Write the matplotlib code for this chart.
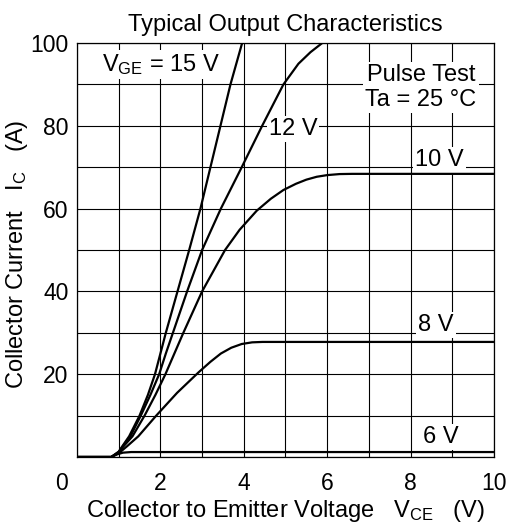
import matplotlib
matplotlib.use("Agg")
import matplotlib.pyplot as plt

plt.rcParams['font.family'] = ['Liberation Sans', 'DejaVu Sans']
plt.rcParams['mathtext.fontset'] = 'custom'
plt.rcParams['mathtext.rm'] = 'Liberation Sans'
plt.rcParams['mathtext.it'] = 'Liberation Sans:italic'

# curves: collector-emitter voltage (V) and collector current (A)
v_15 = [0, 0.82, 1.0, 1.1, 1.25, 1.5, 1.7, 1.87, 2.0, 2.13, 2.41, 2.69, 2.96, 3.2, 3.44, 3.68, 3.96]
i_15 = [0, 0, 1.3, 2.8, 5, 10, 15, 20, 25, 30, 40, 50, 60, 70, 80, 90, 100]

v_12 = [0, 0.82, 1.0, 1.1, 1.28, 1.53, 1.76, 1.97, 2.13, 2.3, 2.64, 3.0, 3.45, 3.95, 4.44, 4.95, 5.31, 5.6, 5.88]
i_12 = [0, 0, 1.2, 2.6, 5, 10, 15, 20, 25, 30, 40, 50, 60, 70, 80, 90, 95, 97.8, 100]

v_10 = [0, 0.82, 1.0, 1.1, 1.33, 1.62, 1.88, 2.12, 2.55, 3.0, 3.55, 3.9, 4.31, 4.65, 4.95, 5.25, 5.5, 5.75, 6.0, 6.3, 6.6, 10]
i_10 = [0, 0, 1.1, 2.4, 5, 10, 15, 20, 30, 40, 50, 54.9, 59.5, 62.4, 64.5, 66.0, 67.0, 67.7, 68.1, 68.35, 68.4, 68.4]

v_8 = [0, 0.82, 1.0, 1.2, 1.47, 1.9, 2.4, 2.92, 3.2, 3.45, 3.7, 3.95, 4.2, 4.45, 10]
i_8 = [0, 0, 0.9, 2.6, 5, 10, 15.5, 20.5, 23.0, 25.0, 26.4, 27.3, 27.7, 27.8, 27.8]

v_6 = [0, 0.82, 0.95, 1.1, 1.3, 10]
i_6 = [0, 0, 0.6, 1.05, 1.2, 1.2]

curves = [(v_15, i_15), (v_12, i_12), (v_10, i_10), (v_8, i_8), (v_6, i_6)]

x_ticks = [2, 4, 6, 8, 10]
y_ticks = [20, 40, 60, 80, 100]

fs = 17

fig = plt.figure(figsize=(5.08, 5.25), dpi=100)
ax = fig.add_axes([0.1516, 0.1295, 0.8208, 0.7885])

for v, i in curves:
    ax.plot(v, i, color='black', lw=1.6, zorder=4, solid_capstyle='butt')

ax.set_xlim(0, 10)
ax.set_ylim(0, 100)
ax.set_xticks(range(0, 11), minor=True)
ax.set_yticks(range(0, 101, 10), minor=True)
ax.set_xticks(x_ticks)
ax.set_yticks(y_ticks)
ax.grid(which='both', color='black', lw=0.8)
ax.set_axisbelow(True)
ax.tick_params(which='both', length=0, labelsize=16.5)
ax.tick_params(axis='x', pad=11)
ax.tick_params(axis='y', pad=6)
for s in ax.spines.values():
    s.set_linewidth(0.9)

# shared "0" at the lower left corner
ax.annotate('0', xy=(0, 0), xytext=(-6.5, -11), textcoords='offset points',
            ha='right', va='top', fontsize=16.5)

ax.set_title('Typical Output Characteristics', fontsize=fs, pad=9)
ax.set_xlabel(r'Collector to Emitter Voltage   $\mathregular{V_{CE}}$   (V)', fontsize=fs, labelpad=2)
ax.set_ylabel(r'Collector Current   $\mathregular{I_C}$   (A)', fontsize=fs)
ax.yaxis.set_label_coords(-0.113, 0.49)

box = dict(facecolor='white', edgecolor='none', pad=1.5)
ax.text(2.01, 94.9, r'$\mathregular{V_{GE}}$ = 15 V', fontsize=fs, ha='center', va='center', bbox=box, zorder=3)
ax.text(5.18, 79.3, '12 V', fontsize=fs, ha='center', va='center', bbox=box, zorder=3)
ax.text(8.25, 89.2, 'Pulse Test\nTa = 25 °C', fontsize=fs, ha='center', va='center',
        linespacing=1.15, bbox=box, zorder=3)
ax.text(8.7, 71.8, '10 V', fontsize=fs, ha='center', va='center', bbox=box, zorder=3)
ax.text(8.61, 31.8, '8 V', fontsize=fs, ha='center', va='center', bbox=box, zorder=3)
ax.text(8.73, 4.8, '6 V', fontsize=fs, ha='center', va='center', bbox=box, zorder=3)

fig.savefig('out.png', dpi=100)
